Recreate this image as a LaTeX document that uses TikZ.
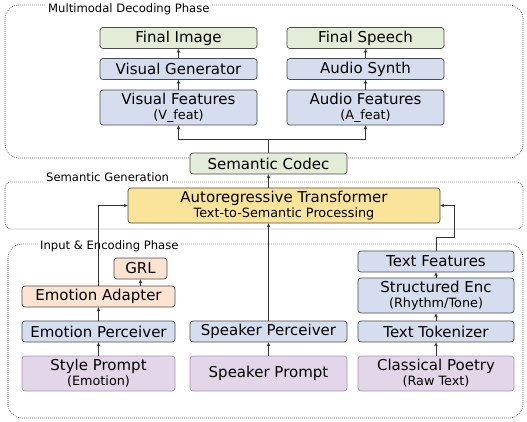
\documentclass[tikz,border=0pt]{standalone}
\usepackage{fontspec}
\setmainfont{DejaVu Sans}
\usetikzlibrary{arrows.meta}
\definecolor{cgreen}{HTML}{E2ECD6}
\definecolor{cblue}{HTML}{D6DDEE}
\definecolor{corange}{HTML}{FCE4D1}
\definecolor{cpurple}{HTML}{E2D6E8}
\definecolor{cyellow}{HTML}{F9E49A}
\definecolor{cborder}{HTML}{4A4A4A}
\definecolor{cpborder}{HTML}{A592B2}
\definecolor{cgroup}{HTML}{555555}
\newcommand{\mainf}{\fontsize{15}{16}\selectfont}
\newcommand{\subf}{\fontsize{12.8}{14}\selectfont}
\newcommand{\labf}{\fontsize{11.6}{13}\selectfont}
\begin{document}
\begin{tikzpicture}[x=1pt,y=-1pt,
  box/.style={draw=cborder,line width=0.7pt,rounded corners=3pt,inner sep=0pt,align=center,font=\mainf},
  g/.style={box,fill=cgreen},
  b/.style={box,fill=cblue},
  o/.style={box,fill=corange},
  p/.style={box,fill=cpurple,draw=cpborder},
  yb/.style={box,fill=cyellow,draw=cborder},
  sh/.style={minimum height=21pt},
  th/.style={minimum height=35pt},
  wn/.style={minimum width=157pt},
  grp/.style={draw=cgroup,dash pattern=on 0.8pt off 1.2pt,line width=0.7pt},
  glabel/.style={fill=white,inner sep=2pt,font=\labf,anchor=west},
  arr/.style={draw=black!80,line width=0.7pt,-{Stealth[length=4pt,width=3.5pt]}},
  ln/.style={draw=black!80,line width=0.7pt}]
\useasboundingbox (0,0) rectangle (527,421);
% groups
\draw[grp,rounded corners=14pt] (5,5) rectangle (523,158);
\node[glabel] (l1) at (46,9) {Multimodal Decoding Phase};
\draw[grp,rounded corners=6pt] (5,182) rectangle (523,229);
\node[glabel] (l2) at (44,177) {Semantic Generation};
\draw[grp,rounded corners=14pt] (8,244) rectangle (523,418);
\node[glabel] (l3) at (38,246) {Input \& Encoding Phase};
% decoding
\node[g,sh,wn] (fi) at (178.5,38) {Final Image};
\node[g,sh,wn] (fs) at (365.5,38) {Final Speech};
\node[b,sh,wn] (vg) at (178.5,69) {Visual Generator};
\node[b,sh,wn] (as) at (365.5,69) {Audio Synth};
\node[b,th,wn] (vf) at (178.5,107.5) {Visual Features\\[-1pt]{\subf (V\textunderscore feat)}};
\node[b,th,wn] (af) at (365.5,107.5) {Audio Features\\[-1pt]{\subf (A\textunderscore feat)}};
\node[g,sh,wn] (sc) at (268.5,163.5) {Semantic Codec};
% semantic
\node[yb,th,minimum width=312pt] (ar) at (284,205.5) {Autoregressive Transformer\\[-1pt]{\subf Text-to-Semantic Processing}};
% input
\node[o,sh,minimum width=53pt] (grl) at (140.5,268.5) {GRL};
\node[o,sh,minimum width=153pt] (ea) at (98.5,296.5) {Emotion Adapter};
\node[b,sh,minimum width=153pt] (ep) at (98.5,331.5) {Emotion Perceiver};
\node[p,th,minimum width=153pt] (stp) at (98.5,373.5) {Style Prompt\\[-1pt]{\subf (Emotion)}};
\node[b,sh,wn] (spe) at (268.5,331.5) {Speaker Perceiver};
\node[p,th,wn] (spp) at (268.5,373.5) {Speaker Prompt};
\node[b,sh,minimum width=156pt] (tf) at (436,261.5) {Text Features};
\node[b,th,minimum width=156pt] (se) at (436,295.5) {Structured Enc\\[-1pt]{\subf (Rhythm/Tone)}};
\node[b,sh,minimum width=156pt] (tt) at (436,331.5) {Text Tokenizer};
\node[p,th,minimum width=156pt] (cp) at (436,373.5) {Classical Poetry\\[-1pt]{\subf (Raw Text)}};
% connectors
\coordinate (j) at (268.5,139);
\coordinate (k) at (454,237);
\draw[ln] (sc.north) -- (j);
\draw[arr] (j) -| (vf.south);
\draw[arr] (j) -| (af.south);
\draw[arr] (vf) -- (vg);
\draw[arr] (vg) -- (fi);
\draw[arr] (af) -- (as);
\draw[arr] (as) -- (fs);
\draw[arr] (ar.north -| sc.south) -- (sc.south);
\draw[arr] (ea.north) |- (ar.west);
\draw[arr] (tf.north) |- (k) |- (ar.east);
\draw[arr] (spe.north) -- (spe.north |- ar.south);
\draw[arr] (ea.north -| grl.south) -- (grl.south);
\draw[arr] (ep) -- (ea);
\draw[arr] (stp) -- (ep);
\draw[arr] (spp) -- (spe);
\draw[arr] (cp) -- (tt);
\draw[arr] (tt) -- (se);
\draw[arr] (se) -- (tf);
\end{tikzpicture}
\end{document}
